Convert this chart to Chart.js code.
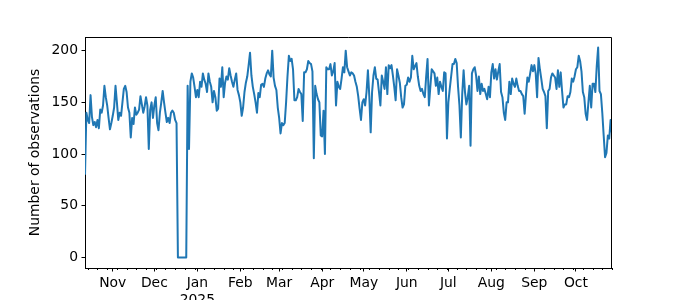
<!DOCTYPE html>
<html>
<head>
<meta charset="utf-8">
<script src="https://cdn.jsdelivr.net/npm/chart.js@4.4.1/dist/chart.umd.min.js"></script>
<style>
  html, body { margin: 0; padding: 0; background: #fff; }
  canvas { display: block; }
</style>
</head>
<body>
<canvas id="chart" width="680" height="300"></canvas>
<script>
// daily counts, 12 Oct 2024 -> 27 Oct 2025
const startDate = [2024, 9, 12];
const oct2024 = [80, 140, 133, 130, 157, 136, 128, 131, 126, 133, 125, 143, 140, 147, 166, 155, 147, 135, 124, 130];
const nov2024 = [137, 145, 166, 150, 133, 140, 137, 150, 163, 166, 160, 145, 140, 116, 135, 129, 145, 138, 140, 143, 156, 148, 140, 146, 155, 147, 105, 143, 150, 135];
const dec2024 = [147, 155, 130, 123, 140, 150, 161, 150, 140, 131, 135, 130, 140, 142, 140, 133, 130, 0, 0, 0, 0, 0, 0, 0, 166, 105, 170, 178, 174, 165, 155];
const jan2025 = [162, 155, 170, 165, 178, 172, 168, 160, 178, 170, 165, 150, 161, 155, 142, 144, 173, 165, 184, 155, 169, 175, 172, 183, 176, 170, 165, 172, 178, 162, 157];
const feb2025 = [150, 137, 145, 160, 169, 175, 186, 198, 176, 165, 158, 150, 140, 159, 155, 167, 168, 165, 173, 178, 181, 177, 175, 200, 174, 166, 162, 145];
const mar2025 = [135, 120, 130, 128, 130, 150, 175, 195, 190, 192, 182, 152, 152, 155, 163, 160, 158, 132, 179, 179, 182, 190, 188, 187, 180, 96, 166, 158, 153, 150, 118];
const apr2025 = [117, 142, 100, 184, 182, 182, 187, 176, 180, 188, 147, 170, 165, 163, 173, 184, 179, 200, 184, 180, 176, 179, 178, 176, 170, 165, 156, 144, 133, 150];
const may2025 = [153, 147, 160, 181, 156, 121, 160, 176, 184, 173, 172, 160, 147, 176, 170, 163, 184, 158, 186, 183, 186, 176, 165, 152, 182, 176, 169, 155, 145, 148, 166];
const jun2025 = [167, 174, 170, 174, 195, 182, 185, 188, 175, 166, 161, 163, 158, 155, 175, 192, 147, 165, 182, 180, 178, 166, 174, 158, 170, 165, 161, 179, 178, 115];
const jul2025 = [150, 163, 175, 187, 187, 192, 188, 165, 147, 116, 158, 181, 160, 148, 155, 166, 108, 178, 182, 184, 176, 161, 175, 158, 168, 161, 163, 158, 153, 165, 155];
const aug2025 = [179, 187, 173, 182, 172, 180, 187, 160, 155, 140, 133, 150, 150, 170, 158, 173, 168, 165, 173, 166, 161, 161, 158, 156, 139, 158, 174, 170, 178, 186, 180];
const sep2025 = [186, 178, 155, 193, 182, 173, 163, 160, 156, 125, 161, 163, 174, 178, 176, 174, 163, 181, 165, 179, 161, 145, 148, 148, 156, 155, 160, 173, 170, 175];
const oct2025 = [182, 184, 195, 190, 180, 160, 155, 139, 133, 150, 166, 145, 168, 168, 160, 185, 203, 161, 158, 140, 118, 97, 101, 118, 115, 133, 120];

const monthNames = ['Jan', 'Feb', 'Mar', 'Apr', 'May', 'Jun', 'Jul', 'Aug', 'Sep', 'Oct', 'Nov', 'Dec'];
const yTicks = [0, 50, 100, 150, 200];

const counts = [].concat(oct2024, nov2024, dec2024, jan2025, feb2025, mar2025,
  apr2025, may2025, jun2025, jul2025, aug2025, sep2025, oct2025);

const dayOf = (i) => new Date(startDate[0], startDate[1], startDate[2] + i);

// month starts are major ticks, mondays are minor ones
let majorTicks = [];
let minorTicks = [];
for (let i = 0; i < counts.length; i++) {
  const d = dayOf(i);
  if (d.getDate() == 1) majorTicks.push(i);
  else if (d.getDay() == 1) minorTicks.push(i);
}

const font = { family: 'DejaVu Sans', size: 13.9 };

const frame = {
  id: 'frame',
  afterDraw(chart) {
    const { ctx, chartArea: a, scales } = chart;
    ctx.save();
    ctx.strokeStyle = '#000';
    ctx.lineWidth = 1;
    ctx.beginPath();
    const t = Math.round(a.top) + 0.5;
    const r = Math.round(a.right) - 0.5;
    ctx.moveTo(a.left, t);
    ctx.lineTo(r, t);
    ctx.lineTo(r, a.bottom);
    // minor ticks
    for (const v of minorTicks) {
      const x = Math.round(scales.x.getPixelForValue(v)) + 0.5;
      ctx.moveTo(x, a.bottom);
      ctx.lineTo(x, a.bottom + 2);
    }
    ctx.stroke();
    ctx.restore();
  },
};

new Chart(document.getElementById('chart'), {
  type: 'line',
  data: {
    datasets: [{
      data: counts.map((v, i) => ({ x: i, y: v })),
      borderColor: '#1f77b4',
      borderWidth: 2,
      borderJoinStyle: 'round',
      pointRadius: 0,
      tension: 0,
      fill: false,
    }],
  },
  options: {
    responsive: false,
    animation: false,
    devicePixelRatio: 1,
    layout: { padding: { top: 37, right: 68, bottom: 0, left: 0 } },
    plugins: { legend: { display: false }, tooltip: { enabled: false } },
    scales: {
      x: {
        type: 'linear',
        min: 0,
        max: counts.length - 1,
        afterBuildTicks: (axis) => { axis.ticks = majorTicks.map((v) => ({ value: v })); },
        afterFit: (axis) => { axis.height = 32; },
        ticks: {
          autoSkip: false,
          maxRotation: 0,
          padding: 3.5,
          color: '#000',
          font: font,
          callback: (v) => {
            const d = dayOf(v);
            const m = monthNames[d.getMonth()];
            return d.getMonth() == 0 ? [m, String(d.getFullYear())] : m;
          },
        },
        grid: { drawOnChartArea: false, tickLength: 3.5, tickColor: '#000', tickWidth: 1 },
        border: { color: '#000', width: 1 },
      },
      y: {
        min: -10.15,
        max: 213.2,
        afterBuildTicks: (axis) => { axis.ticks = yTicks.map((v) => ({ value: v })); },
        afterFit: (axis) => { axis.width = 85; },
        ticks: { padding: 3.5, color: '#000', font: font },
        grid: { drawOnChartArea: false, tickLength: 3.5, tickColor: '#000', tickWidth: 1 },
        border: { color: '#000', width: 1 },
        title: {
          display: true,
          text: 'Number of observations',
          color: '#000',
          font: font,
          padding: { top: 27, bottom: 0 },
        },
      },
    },
  },
  plugins: [frame],
});
</script>
</body>
</html>
